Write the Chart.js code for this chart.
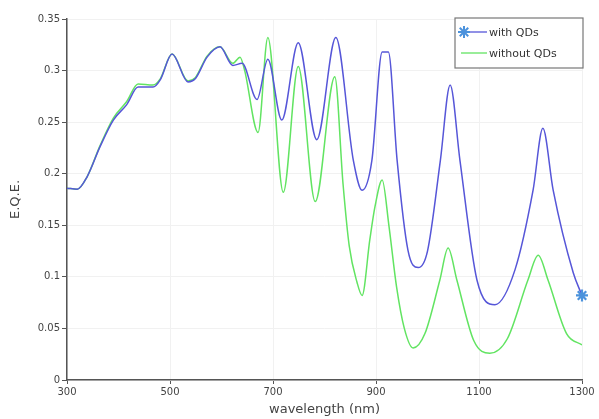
<!DOCTYPE html>
<html>
<head>
<meta charset="utf-8">
<script src="https://cdn.jsdelivr.net/npm/chart.js@4/dist/chart.umd.min.js"></script>
<style>
  html, body { margin: 0; padding: 0; background: #fff; }
  #wrap { width: 599px; height: 419px; }
</style>
</head>
<body>
<div id="wrap"><canvas id="eqe-chart" width="599" height="419"></canvas></div>
<script>
// wavelength (nm) and E.Q.E.
const wavelengthsQD = [300, 320, 339, 364, 390, 416, 438, 467, 481, 504, 535, 549, 572, 597, 622, 640,
  669, 690, 717, 749, 785, 822, 856, 873, 892, 912, 924, 941, 962, 982, 1000, 1025, 1044, 1063, 1096,
  1131, 1170, 1205, 1224, 1244, 1283, 1300];
const eqeQD = [0.186, 0.185, 0.197, 0.226, 0.252, 0.267, 0.284, 0.284, 0.291, 0.316, 0.289, 0.292, 0.313, 0.323, 0.305, 0.307,
  0.272, 0.311, 0.252, 0.327, 0.233, 0.332, 0.213, 0.184, 0.213, 0.318, 0.318, 0.213, 0.126, 0.109, 0.125, 0.213, 0.286, 0.213, 0.097,
  0.073, 0.107, 0.184, 0.244, 0.184, 0.104, 0.082];

const wavelengthsNoQD = [300, 320, 339, 364, 390, 416, 438, 467, 481, 504, 535, 549, 572, 597, 622, 636, 645,
  671, 690, 720, 749, 782, 820, 836, 848, 863, 873, 888, 898, 912, 925, 940, 955, 972, 995, 1024, 1040, 1057,
  1090, 1121, 1155, 1195, 1215, 1234, 1270, 1300];
const eqeNoQD = [0.186, 0.185, 0.197, 0.227, 0.254, 0.27, 0.287, 0.286, 0.292, 0.316, 0.29, 0.293, 0.314, 0.323, 0.307, 0.313, 0.3,
  0.24, 0.332, 0.182, 0.304, 0.173, 0.294, 0.19, 0.13, 0.095, 0.082, 0.136, 0.168, 0.194, 0.15, 0.09, 0.05, 0.031, 0.045, 0.097, 0.128, 0.097,
  0.038, 0.026, 0.04, 0.097, 0.121, 0.097, 0.045, 0.034];

const seriesLabels = ["with QDs", "without QDs"];
const xTicks = [300, 500, 700, 900, 1100, 1300];
const yTicks = [0, 0.05, 0.1, 0.15, 0.2, 0.25, 0.3, 0.35];

const blue = "#5656d8";
const starBlue = "#4b92dc";
const green = "#62e462";

const toPoints = (xs, ys) => xs.map((x, i) => ({ x: x, y: ys[i] }));

// only the last point of "with QDs" carries the star marker
const starRadius = wavelengthsQD.map((w, i) => i === wavelengthsQD.length - 1 ? 6 : 0);

// legend box drawn in the upper right corner, like the original figure
const boxLegend = {
  id: "boxLegend",
  afterDraw(chart) {
    const ctx = chart.ctx;
    const x0 = 455, y0 = 18, w = 128, h = 50;
    ctx.save();
    ctx.fillStyle = "#fff";
    ctx.fillRect(x0, y0, w, h);
    ctx.strokeStyle = "#777";
    ctx.lineWidth = 1.2;
    ctx.strokeRect(x0, y0, w, h);
    ctx.font = "11px 'DejaVu Sans', sans-serif";
    ctx.textBaseline = "middle";
    chart.data.datasets.forEach((ds, i) => {
      const y = y0 + 14 + i * 21;
      ctx.strokeStyle = ds.borderColor;
      ctx.lineWidth = 1.3;
      ctx.beginPath();
      ctx.moveTo(x0 + 6, y);
      ctx.lineTo(x0 + 32, y);
      ctx.stroke();
      if (i === 0) {
        ctx.strokeStyle = starBlue;
        ctx.lineWidth = 2;
        Chart.helpers.drawPoint(ctx, { pointStyle: "star", radius: 6, borderWidth: 2 }, x0 + 9, y);
      }
      ctx.fillStyle = "#333";
      ctx.fillText(ds.label, x0 + 34, y + 1);
    });
    ctx.restore();
  }
};

const ctx = document.getElementById("eqe-chart").getContext("2d");
const chart = new Chart(ctx, {
  type: "line",
  data: {
    datasets: [{
      label: seriesLabels[0],
      data: toPoints(wavelengthsQD, eqeQD),
      borderColor: blue,
      borderWidth: 1.5,
      cubicInterpolationMode: "monotone",
      pointStyle: "star",
      pointRadius: starRadius,
      pointBorderColor: starBlue,
      pointBorderWidth: 2.2,
      clip: false
    }, {
      label: seriesLabels[1],
      data: toPoints(wavelengthsNoQD, eqeNoQD),
      borderColor: green,
      borderWidth: 1.5,
      cubicInterpolationMode: "monotone",
      pointRadius: 0
    }]
  },
  options: {
    responsive: false,
    animation: false,
    layout: { padding: { left: 0, top: 19, right: 17, bottom: 0 } },
    plugins: {
      legend: { display: false },
      tooltip: { enabled: false }
    },
    scales: {
      x: {
        type: "linear",
        min: 300,
        max: 1300,
        afterBuildTicks: (scale) => { scale.ticks = xTicks.map(v => ({ value: v })); },
        afterFit: (scale) => { scale.height = 39; },
        ticks: {
          color: "#444",
          font: { family: "'DejaVu Sans', sans-serif", size: 10 },
          padding: 2,
          maxRotation: 0,
          callback: (v) => String(v)
        },
        grid: { color: "#f1f1f1", tickColor: "#555", tickLength: 4 },
        border: { color: "#555", width: 1.5 },
        title: {
          display: true,
          text: "wavelength (nm)",
          color: "#444",
          font: { family: "'DejaVu Sans', sans-serif", size: 13 },
          padding: { top: 0, bottom: 2 }
        }
      },
      y: {
        min: 0,
        max: 0.35,
        afterBuildTicks: (scale) => { scale.ticks = yTicks.map(v => ({ value: v })); },
        afterFit: (scale) => { scale.width = 67; },
        ticks: {
          color: "#444",
          font: { family: "'DejaVu Sans', sans-serif", size: 10 },
          padding: 2,
          callback: (v) => String(+v.toFixed(2))
        },
        grid: { color: "#f1f1f1", tickColor: "#555", tickLength: 5 },
        border: { color: "#555", width: 1.5 },
        title: {
          display: true,
          text: "E.Q.E.",
          color: "#444",
          font: { family: "'DejaVu Sans', sans-serif", size: 13 },
          padding: { top: 8, bottom: 0 }
        }
      }
    }
  },
  plugins: [boxLegend]
});
</script>
</body>
</html>
